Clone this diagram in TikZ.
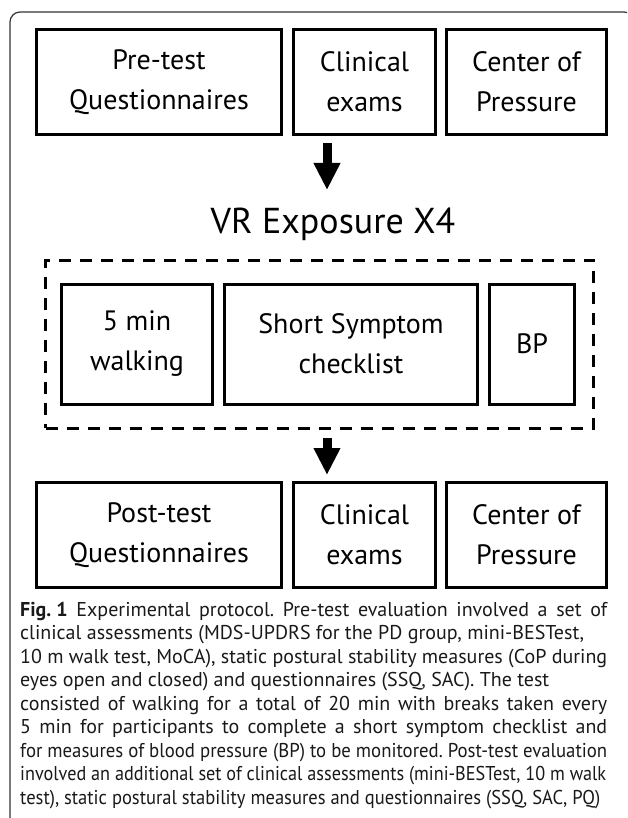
\documentclass[tikz,border=0pt]{standalone}
\usepackage{fontspec}
\setmainfont{PT Sans}
\usepackage{tikz}
\usetikzlibrary{arrows.meta}
\frenchspacing
\tikzstyle{box} = [draw, line width=3pt, inner sep=0pt, align=center, minimum height=105pt, font=\fontsize{28}{40}\selectfont]
\tikzstyle{subbox} = [box, minimum height=120pt]
\tikzstyle{dashbox} = [draw, line width=3pt, dash pattern=on 12pt off 9pt, inner sep=0pt]
\tikzstyle{bigarrow} = [line width=9pt, -{Triangle[width=25pt,length=27pt]}]
\newcommand{\capline}[1]{\makebox[587pt][s]{#1}}
\newcommand{\capsqueeze}[2]{\resizebox{#1}{\height}{#2}}

\begin{document}
\begin{tikzpicture}[x=1pt,y=-1pt,line join=miter]
    \useasboundingbox (0,0) rectangle (627,818);
    % frame of the figure panel
    \begin{scope}
        \clip (0,0) rectangle (627,818);
        \draw[line width=1.2pt, color=black!80, rounded corners=10pt] (10,12) rectangle (634,840);
    \end{scope}
    % pre-test row
    \node[box, minimum width=245pt] (preq) at (159,82) {Pre-test\\Questionnaires};
    \node[box, minimum width=142pt] (prec) at (364.5,82) {Clinical\\exams};
    \node[box, minimum width=160pt] (prep) at (526.5,82) {Center of\\Pressure};
    \coordinate (a1s) at (327,143);
    \coordinate (a1e) at (327,190);
    \draw[bigarrow] (a1s) -- (a1e);
    % VR exposure block
    \node[font=\fontsize{36}{40}\selectfont] (vr) at (333,224) {VR Exposure X4};
    \node[dashbox, minimum width=548pt, minimum height=168pt] (vrbox) at (319.5,344) {};
    \node[subbox, minimum width=151pt] (walk) at (137,344) {5 min\\walking};
    \node[subbox, minimum width=253pt] (ssc) at (351,344) {Short Symptom\\checklist};
    \node[subbox, minimum width=85pt] (bp) at (532,344) {BP};
    \coordinate (a2s) at (327,438);
    \coordinate (a2e) at (327,475);
    \draw[bigarrow] (a2s) -- (a2e);
    % post-test row
    \node[box, minimum width=245pt] (postq) at (159,535) {Post-test\\Questionnaires};
    \node[box, minimum width=142pt] (postc) at (364.5,535) {Clinical\\exams};
    \node[box, minimum width=160pt] (postp) at (526.5,535) {Center of\\Pressure};
    % caption
    \node[anchor=north west, align=left, inner sep=0pt, text=black!90, font=\fontsize{20}{23.5}\selectfont] (cap) at (20,602) {%
        \capline{\mbox{\textbf{Fig. 1}} Experimental protocol. Pre-test evaluation involved a set of}\\
        clinical assessments (MDS-UPDRS for the PD group, mini-BESTest,\\
        \capline{10 m walk test, MoCA), static postural stability measures (CoP during}\\
        eyes open and closed) and questionnaires (SSQ, SAC). The test\\
        \capline{consisted of walking for a total of 20 min with breaks taken every}\\
        \capline{5 min for participants to complete a short symptom checklist and}\\
        \capsqueeze{587pt}{for measures of blood pressure (BP) to be monitored. Post-test evaluation}\\
        \capsqueeze{586pt}{involved an additional set of clinical assessments (mini-BESTest, 10 m walk}\\
        \capsqueeze{580pt}{test), static postural stability measures and questionnaires (SSQ, SAC, PQ)}};
\end{tikzpicture}
\end{document}
